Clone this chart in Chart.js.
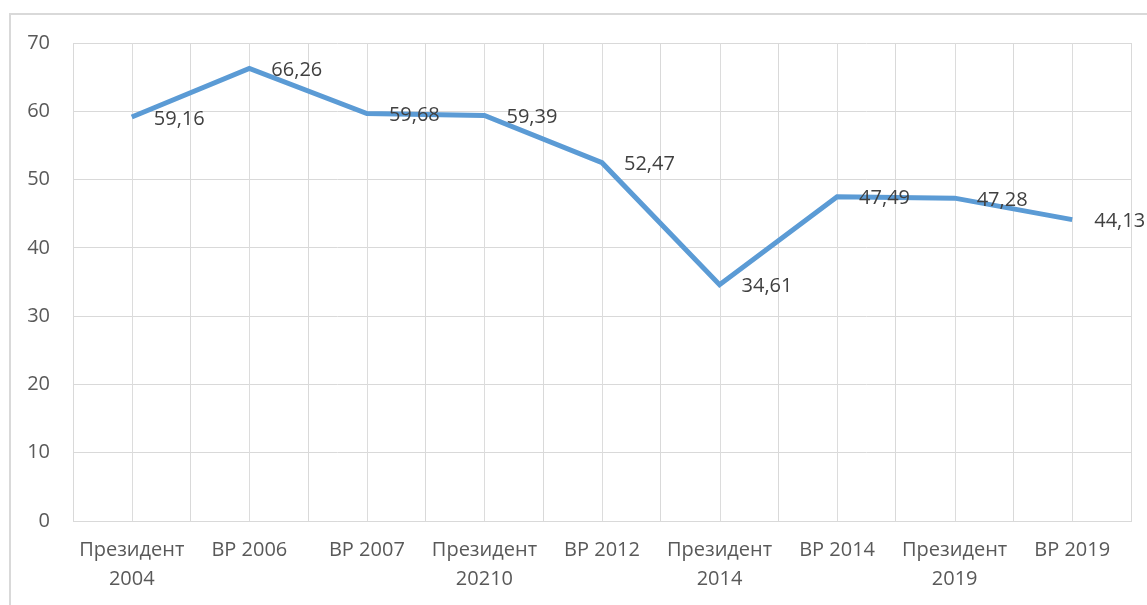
<!DOCTYPE html>
<html>
<head>
<meta charset="utf-8">
<script src="https://cdn.jsdelivr.net/npm/chart.js@4"></script>
<style>
  html, body { margin: 0; padding: 0; background: #fff; overflow: hidden; }
  #wrap { position: relative; width: 1147px; height: 605px; }
  #frame { position: absolute; left: 9px; top: 13px; width: 1200px; height: 700px;
           border-left: 2px solid #d9d9d9; border-top: 2px solid #d9d9d9; box-sizing: border-box; }
  #chart { position: absolute; left: 0; top: 0; }
</style>
</head>
<body>
<div id="wrap">
  <div id="frame"></div>
  <canvas id="chart" width="1147" height="605"></canvas>
</div>
<script>
const categories = [
  ['Президент', '2004'], 'ВР 2006', 'ВР 2007', ['Президент', '20210'], 'ВР 2012',
  ['Президент', '2014'], 'ВР 2014', ['Президент', '2019'], 'ВР 2019'
];
const turnout = [59.16, 66.26, 59.68, 59.39, 52.47, 34.61, 47.49, 47.28, 44.13];
const yTicks = [0, 10, 20, 30, 40, 50, 60, 70];

const FONT = '"Open Sans", "Liberation Sans", sans-serif';

// vertical lines through each category centre (Excel draws them as well)
const centreLines = {
    id: 'centreLines',
    beforeDatasetsDraw(chart) {
        const { ctx, chartArea, scales } = chart;
        ctx.save();
        ctx.strokeStyle = '#dcdcdc';
        ctx.lineWidth = 1;
        categories.forEach((c, i) => {
            const x = Math.round(scales.x.getPixelForValue(i)) + 0.5;
            ctx.beginPath();
            ctx.moveTo(x, chartArea.top);
            ctx.lineTo(x, chartArea.bottom);
            ctx.stroke();
        });
        ctx.restore();
    }
};

// value labels to the right of each point
const valueLabels = {
    id: 'valueLabels',
    afterDatasetsDraw(chart) {
        const { ctx } = chart;
        const meta = chart.getDatasetMeta(0);
        ctx.save();
        ctx.font = '20px ' + FONT;
        ctx.fillStyle = '#404040';
        ctx.textAlign = 'left';
        ctx.textBaseline = 'middle';
        meta.data.forEach((pt, i) => {
            const txt = turnout[i].toFixed(2).replace('.', ',');
            ctx.fillText(txt, pt.x + 22, pt.y + 2);
        });
        ctx.restore();
    }
};

new Chart(document.getElementById('chart'), {
    type: 'line',
    data: {
        labels: categories,
        datasets: [{
            data: turnout,
            borderColor: '#5b9bd5',
            borderWidth: 5,
            pointRadius: 0,
            tension: 0,
            fill: false
        }]
    },
    options: {
        responsive: false,
        animation: false,
        layout: { padding: { top: 43, right: 16, left: 0, bottom: 0 } },
        plugins: { legend: { display: false }, tooltip: { enabled: false } },
        scales: {
            x: {
                offset: true,
                grid: { offset: true, color: '#d9d9d9', drawTicks: false },
                border: { color: '#d9d9d9' },
                ticks: {
                    color: '#595959', padding: 15, maxRotation: 0, autoSkip: false,
                    font: { family: FONT, size: 20, lineHeight: 1.45 }
                },
                afterFit(scale) { scale.height = 84; }
            },
            y: {
                min: 0, max: 70,
                afterBuildTicks(scale) { scale.ticks = yTicks.map(v => ({ value: v })); },
                grid: { color: '#d9d9d9', drawTicks: false },
                border: { display: false },
                ticks: {
                    color: '#595959', padding: 23,
                    font: { family: FONT, size: 20 }
                },
                afterFit(scale) { scale.width = 73; }
            }
        }
    },
    plugins: [centreLines, valueLabels]
});
</script>
</body>
</html>
